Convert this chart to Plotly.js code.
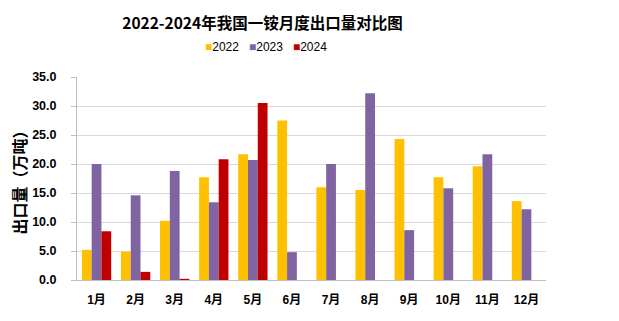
<!DOCTYPE html>
<html>
<head>
<meta charset="utf-8">
<script src="https://cdn.plot.ly/plotly-3.0.1.min.js"></script>
<style>html,body{margin:0;padding:0;background:#fff;}#chart{width:619px;height:321px;}</style>
</head>
<body>
<div id="chart"></div>
<script>
const months = ['1月','2月','3月','4月','5月','6月','7月','8月','9月','10月','11月','12月'];
const seriesNames = ['2022','2023','2024'];
const seriesColors = ['#FFC000','#8064A2','#C00000'];
const v2022 = [5.2, 4.9, 10.2, 17.7, 21.7, 27.5, 16.0, 15.5, 24.3, 17.7, 19.6, 13.6];
const v2023 = [20.0, 14.6, 18.8, 13.4, 20.7, 4.8, 20.0, 32.2, 8.6, 15.8, 21.7, 12.2];
const v2024 = [8.4, 1.4, 0.2, 20.8, 30.5, null, null, null, null, null, null, null];
const yTitle = '出口量（万吨）';
const chartTitle = '2022-2024年我国一铵月度出口量对比图';

const allValues = [v2022, v2023, v2024];
const font = 'Liberation Sans, "Noto Sans CJK SC", sans-serif';
const cjk = '"Noto Sans CJK SC", "Liberation Sans", sans-serif';

const data = allValues.map((vals, i) => ({
  type: 'bar',
  name: seriesNames[i],
  x: months,
  y: vals,
  marker: {color: seriesColors[i], line: {width: 0}},
  hoverinfo: 'x+y+name'
}));

const legendText = seriesNames.map((n, i) =>
  '<span style="color:' + seriesColors[i] + '">■</span>' + n).join('   ');

const layout = {
  width: 619, height: 321,
  margin: {l: 77, r: 73, t: 77, b: 41, pad: 0},
  paper_bgcolor: '#fff', plot_bgcolor: '#fff',
  barmode: 'group', bargap: 0.25, bargroupgap: 0,
  showlegend: false,
  title: {
    text: chartTitle,
    font: {family: cjk, size: 15.5, color: '#000', weight: 'bold'},
    xref: 'container', x: 0.424, xanchor: 'center',
    yref: 'container', y: 0.928, yanchor: 'middle'
  },
  xaxis: {
    type: 'category',
    tickfont: {family: font, size: 12, color: '#000', weight: 'bold'},
    showline: true, linecolor: '#BFBFBF', linewidth: 1,
    ticks: '', showgrid: false, ticklabelstandoff: 9,
    fixedrange: true
  },
  yaxis: {
    range: [0, 35], dtick: 5, tick0: 0, tickformat: '.1f',
    tickfont: {family: font, size: 12.5, color: '#000', weight: 'bold'},
    showline: true, linecolor: '#BFBFBF', linewidth: 1,
    ticks: 'outside', ticklen: 5, tickcolor: '#BFBFBF', tickwidth: 1,
    gridcolor: '#D9D9D9', gridwidth: 1,
    zeroline: false, ticklabelstandoff: 12,
    title: {text: yTitle, font: {family: cjk, size: 16, color: '#000', weight: 'bold'}, standoff: 1},
    fixedrange: true
  },
  annotations: [{
    text: legendText,
    xref: 'paper', yref: 'paper',
    x: (266 - 77) / 469, y: 1 + (77 - 47) / 203,
    xanchor: 'center', yanchor: 'middle',
    showarrow: false,
    font: {family: font, size: 12, color: '#000'}
  }]
};

Plotly.newPlot('chart', data, layout, {displayModeBar: false, staticPlot: true});
</script>
</body>
</html>
